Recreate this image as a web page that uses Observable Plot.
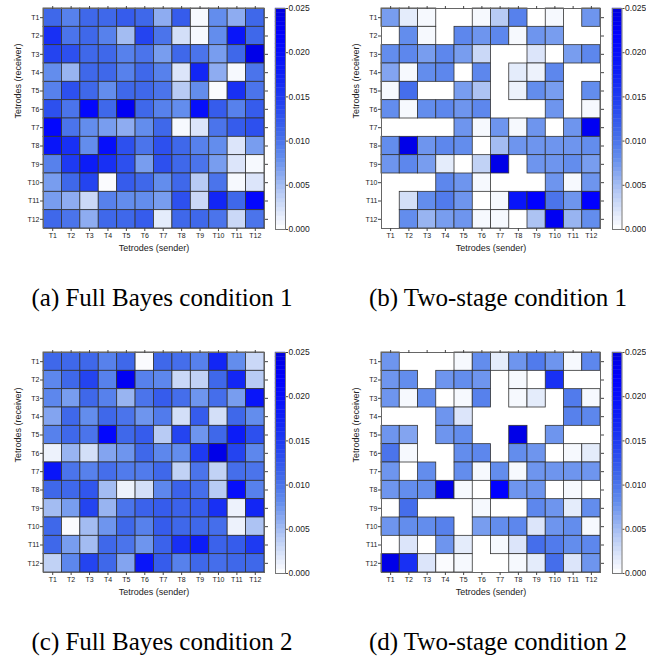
<!DOCTYPE html>
<html>
<head>
<meta charset="utf-8">
<script src="https://cdn.jsdelivr.net/npm/d3@7"></script>
<script src="https://cdn.jsdelivr.net/npm/@observablehq/plot@0.6"></script>
<style>
  html, body { margin: 0; padding: 0; background: #fff; }
  #root { position: relative; width: 646px; height: 659px; overflow: hidden; background: #fff; }
  .box { position: absolute; }
  .box svg { max-width: none !important; display: block; }
  .cap { position: absolute; font-family: "Liberation Serif", "Times New Roman", serif; font-size: 25px;
         color: #000; white-space: nowrap; transform: translateX(-50%); line-height: 28px; }
</style>
</head>
<body>
<div id="root"></div>
<script>
const tetrodes = ["T1","T2","T3","T4","T5","T6","T7","T8","T9","T10","T11","T12"];

// rows = receiver T1..T12, columns = sender T1..T12
const fullBayes1 = [
  [0.011,0.009,0.011,0.011,0.012,0.011,0.006,0.012,0.0005,0.008,0.006,0.011],
  [0.016,0.010,0.011,0.009,0.005,0.014,0.010,0.0025,0.0005,0.008,0.019,0.011],
  [0.014,0.013,0.011,0.011,0.009,0.010,0.007,0.011,0.010,0.007,0.011,0.024],
  [0.008,0.0055,0.011,0.011,0.009,0.011,0.009,0.002,0.017,0.006,0.0005,0.010],
  [0.009,0.013,0.011,0.008,0.011,0.011,0.010,0.004,0.008,0.0003,0.016,0.010],
  [0.013,0.010,0.021,0.011,0.023,0.011,0.009,0.008,0.020,0.012,0.009,0.012],
  [0.021,0.010,0.008,0.007,0.006,0.008,0.011,0.0005,0.002,0.010,0.012,0.013],
  [0.019,0.016,0.008,0.020,0.013,0.010,0.013,0.011,0.009,0.008,0.002,0.007],
  [0.009,0.015,0.018,0.016,0.013,0.007,0.013,0.011,0.010,0.007,0.002,0.0005],
  [0.007,0.011,0.014,0.0003,0.012,0.011,0.008,0.011,0.004,0.010,0.0005,0.002],
  [0.007,0.006,0.003,0.009,0.008,0.008,0.007,0.013,0.003,0.017,0.011,0.021],
  [0.011,0.010,0.006,0.011,0.011,0.012,0.0015,0.011,0.011,0.010,0.003,0.010]
];

const twoStage1 = [
  [0.007,0.0015,0.0005,null,null,0.0005,0.004,0.009,null,0.0005,null,0.0075],
  [null,0.008,0.0005,null,0.0085,0.0075,0.0085,0.0005,0.0075,0.007,null,null],
  [0.008,0.0085,0.007,0.0085,0.007,0.003,null,null,0.002,null,0.007,0.0085],
  [0.0065,0.0005,0.008,0.0085,null,0.0085,null,0.0015,0.001,0.0085,null,null],
  [0.0005,0.0105,null,null,0.007,0.0045,null,0.001,0.008,0.007,null,0.008],
  [0.008,0.0005,0.008,0.0085,0.0075,0.0085,null,null,null,0.0075,null,0.0005],
  [null,null,null,null,0.0075,0.0005,0.0075,0.0005,0.0075,null,0.0075,0.023],
  [0.008,0.024,0.0075,0.0085,0.008,null,0.005,0.0075,0.0075,0.0075,0.0075,0.008],
  [0.0075,0.0085,0.007,0.0015,null,0.0035,0.024,null,0.0075,0.0075,0.008,0.007],
  [null,null,null,0.0085,0.0075,0.0005,null,null,null,0.0075,0.0005,0.0075],
  [null,0.0025,0.008,0.0095,0.0075,null,0.0005,0.019,0.022,0.010,0.0075,0.022],
  [null,0.008,0.0055,0.007,0.0075,0.0005,0.0005,null,0.0045,0.023,0.0055,0.008]
];

const fullBayes2 = [
  [0.011,0.011,0.011,0.009,0.011,0.0003,0.011,0.0105,0.009,0.017,0.008,0.003],
  [0.0085,0.011,0.014,0.009,0.023,0.009,0.0085,0.003,0.0035,0.011,0.017,0.004],
  [0.0085,0.007,0.011,0.009,0.0055,0.010,0.012,0.0105,0.0075,0.0105,0.007,0.019],
  [0.0065,0.011,0.008,0.011,0.010,0.0075,0.0095,0.0025,0.012,0.0025,0.011,0.008],
  [0.009,0.011,0.010,0.021,0.011,0.012,0.004,0.014,0.0075,0.011,0.018,0.013],
  [0.001,0.0055,0.0025,0.0065,0.0075,0.011,0.0085,0.008,0.015,0.024,0.014,0.0085],
  [0.019,0.010,0.009,0.0105,0.0095,0.0095,0.011,0.0035,0.010,0.0035,0.0105,0.010],
  [0.011,0.011,0.0125,0.005,0.001,0.0025,0.0085,0.0115,0.0105,0.004,0.020,0.009],
  [0.005,0.007,0.014,0.0055,0.010,0.0115,0.012,0.0115,0.012,0.016,0.001,0.017],
  [0.011,0.0003,0.005,0.0075,0.011,0.009,0.012,0.011,0.011,0.0105,0.001,0.0045],
  [0.011,0.007,0.005,0.011,0.010,0.0075,0.0115,0.016,0.018,0.0115,0.012,0.015],
  [0.0035,0.0085,0.014,0.011,0.0065,0.019,0.012,0.009,0.011,0.0105,0.011,0.011]
];

const twoStage2 = [
  [0.0075,null,null,null,0.0005,0.008,0.0015,0.0075,0.0095,0.0075,0.0005,0.0085],
  [0.0075,0.008,null,0.0075,0.008,0.0075,null,0.0005,null,0.016,null,null],
  [0.0075,0.0005,0.008,null,0.0005,0.009,null,0.0005,0.0015,null,0.0095,0.0005],
  [null,null,null,0.0075,0.002,null,null,null,null,null,0.009,0.0085],
  [0.0075,0.0065,null,0.0075,0.008,null,null,0.024,null,0.0075,null,null],
  [0.010,0.0005,null,null,0.008,0.0085,null,0.008,0.0075,null,0.0005,0.0015],
  [0.0075,null,0.008,null,0.008,0.0005,0.008,0.0005,0.0075,0.0075,0.0075,0.0075],
  [0.0075,0.008,0.008,0.024,0.0005,null,0.022,0.0075,0.0075,null,0.0005,null],
  [null,0.0105,null,null,null,0.0005,null,null,0.0085,0.0075,0.0015,0.008],
  [0.0075,0.008,0.008,0.009,null,0.007,0.008,0.0085,0.002,0.0075,0.008,0.0005],
  [null,0.002,null,0.0075,0.0015,null,0.0005,0.002,0.0105,0.0095,0.008,0.0085],
  [0.024,0.016,0.002,0.0003,0.0005,null,null,0.0005,0.0015,0.0105,0.002,0.0075]
];

const captions = ["(a) Full Bayes condition 1", "(b) Two-stage condition 1",
                  "(c) Full Bayes condition 2", "(d) Two-stage condition 2"];
const legendTicks = [0, 0.005, 0.010, 0.015, 0.020, 0.025];
const colorDomain = [0, 0.004, 0.008, 0.011, 0.014, 0.018, 0.022, 0.025];
const colorRange = ["#ffffff", "#b8cbf4", "#638ded", "#3f68ea", "#2444f0", "#0c1cf7", "#0000ff", "#0000dc"];

const colorScale = {type: "linear", domain: colorDomain, range: colorRange, interpolate: "rgb", clamp: true};
const legendStep = 0.0005;
const legendLevels = d3.range(0, 0.025 - 1e-9, legendStep);

const fontStack = "'Liberation Sans', Arial, Helvetica, sans-serif";

function toCells(m) {
  const out = [];
  m.forEach((row, i) => row.forEach((v, j) => {
    if (v != null) out.push({receiver: tetrodes[i], sender: tetrodes[j], value: v});
  }));
  return out;
}

function heatmap(m, gridW) {
  const W = 270, H = 260;
  return Plot.plot({
    width: W, height: H,
    marginLeft: 43, marginRight: W - 43 - gridW, marginTop: 8, marginBottom: H - 8 - 220,
    style: {fontFamily: fontStack, color: "#222", background: "transparent", overflow: "visible"},
    x: {type: "band", domain: tetrodes, padding: 0, round: false},
    y: {type: "band", domain: tetrodes, padding: 0, round: false},
    color: colorScale,
    marks: [
      Plot.cell(toCells(m), {x: "sender", y: "receiver", fill: "value", stroke: "#333", strokeWidth: 0.8}),
      Plot.frame({stroke: "#666", strokeWidth: 1}),
      Plot.axisX({anchor: "bottom", tickSize: 3, tickPadding: 2, fontSize: 7, label: null, stroke: "#444"}),
      Plot.axisX({anchor: "top", tickSize: 3, tickFormat: () => "", label: null, stroke: "#444"}),
      Plot.axisY({anchor: "left", tickSize: 3, tickPadding: 1, fontSize: 7, label: null, stroke: "#444"}),
      Plot.axisY({anchor: "right", tickSize: 3, tickFormat: () => "", label: null, stroke: "#444"}),
      Plot.text(["Tetrodes (sender)"], {text: d => d, frameAnchor: "bottom", dy: 22, fontSize: 9, fill: "#222"}),
      Plot.text(["Tetrodes (receiver)"], {text: d => d, frameAnchor: "left", dx: -25, rotate: -90, fontSize: 9, fill: "#222"})
    ]
  });
}

function colorbar(barW) {
  const W = 60, H = 240;
  return Plot.plot({
    width: W, height: H,
    marginLeft: 5, marginRight: W - 5 - barW, marginTop: 8, marginBottom: H - 8 - 221,
    style: {fontFamily: fontStack, color: "#222", background: "transparent", overflow: "visible"},
    x: {domain: [0, 1], axis: null},
    y: {domain: [0, 0.025]},
    color: colorScale,
    marks: [
      Plot.rect(legendLevels, {x1: 0, x2: 1, y1: d => d, y2: d => d + legendStep,
        fill: d => d + legendStep / 2, stroke: d => d + legendStep / 2, strokeWidth: 0.4}),
      Plot.frame({stroke: "#777", strokeWidth: 1}),
      Plot.axisY(legendTicks, {anchor: "right", tickSize: 2, tickPadding: 1, fontSize: 8.5,
        tickFormat: d3.format(".3f"), label: null, stroke: "#444"})
    ]
  });
}

const root = document.getElementById("root");
function place(node, left, top, w, h) {
  const d = document.createElement("div");
  d.className = "box";
  d.style.left = left + "px";
  d.style.top = top + "px";
  d.style.width = w + "px";
  d.style.height = h + "px";
  d.appendChild(node);
  root.appendChild(d);
}
function caption(text, cx, top) {
  const d = document.createElement("div");
  d.className = "cap";
  d.style.left = cx + "px";
  d.style.top = top + "px";
  d.textContent = text;
  root.appendChild(d);
}

const panels = [
  {m: fullBayes1, hx: 0,   hy: 0,   gw: 221, cbx: 270, cbw: 10, cx: 162, cy: 284},
  {m: twoStage1,  hx: 338, hy: 0,   gw: 219, cbx: 606.5, cbw: 9.5, cx: 498, cy: 284},
  {m: fullBayes2, hx: 0,   hy: 344, gw: 221, cbx: 270, cbw: 10, cx: 162, cy: 628},
  {m: twoStage2,  hx: 338, hy: 344, gw: 219, cbx: 606.5, cbw: 9.5, cx: 498, cy: 628}
];

panels.forEach((p, i) => {
  place(heatmap(p.m, p.gw), p.hx, p.hy, 270, 260);
  place(colorbar(p.cbw), p.cbx, p.hy, 60, 240);
  caption(captions[i], p.cx, p.cy);
});
</script>
</body>
</html>
